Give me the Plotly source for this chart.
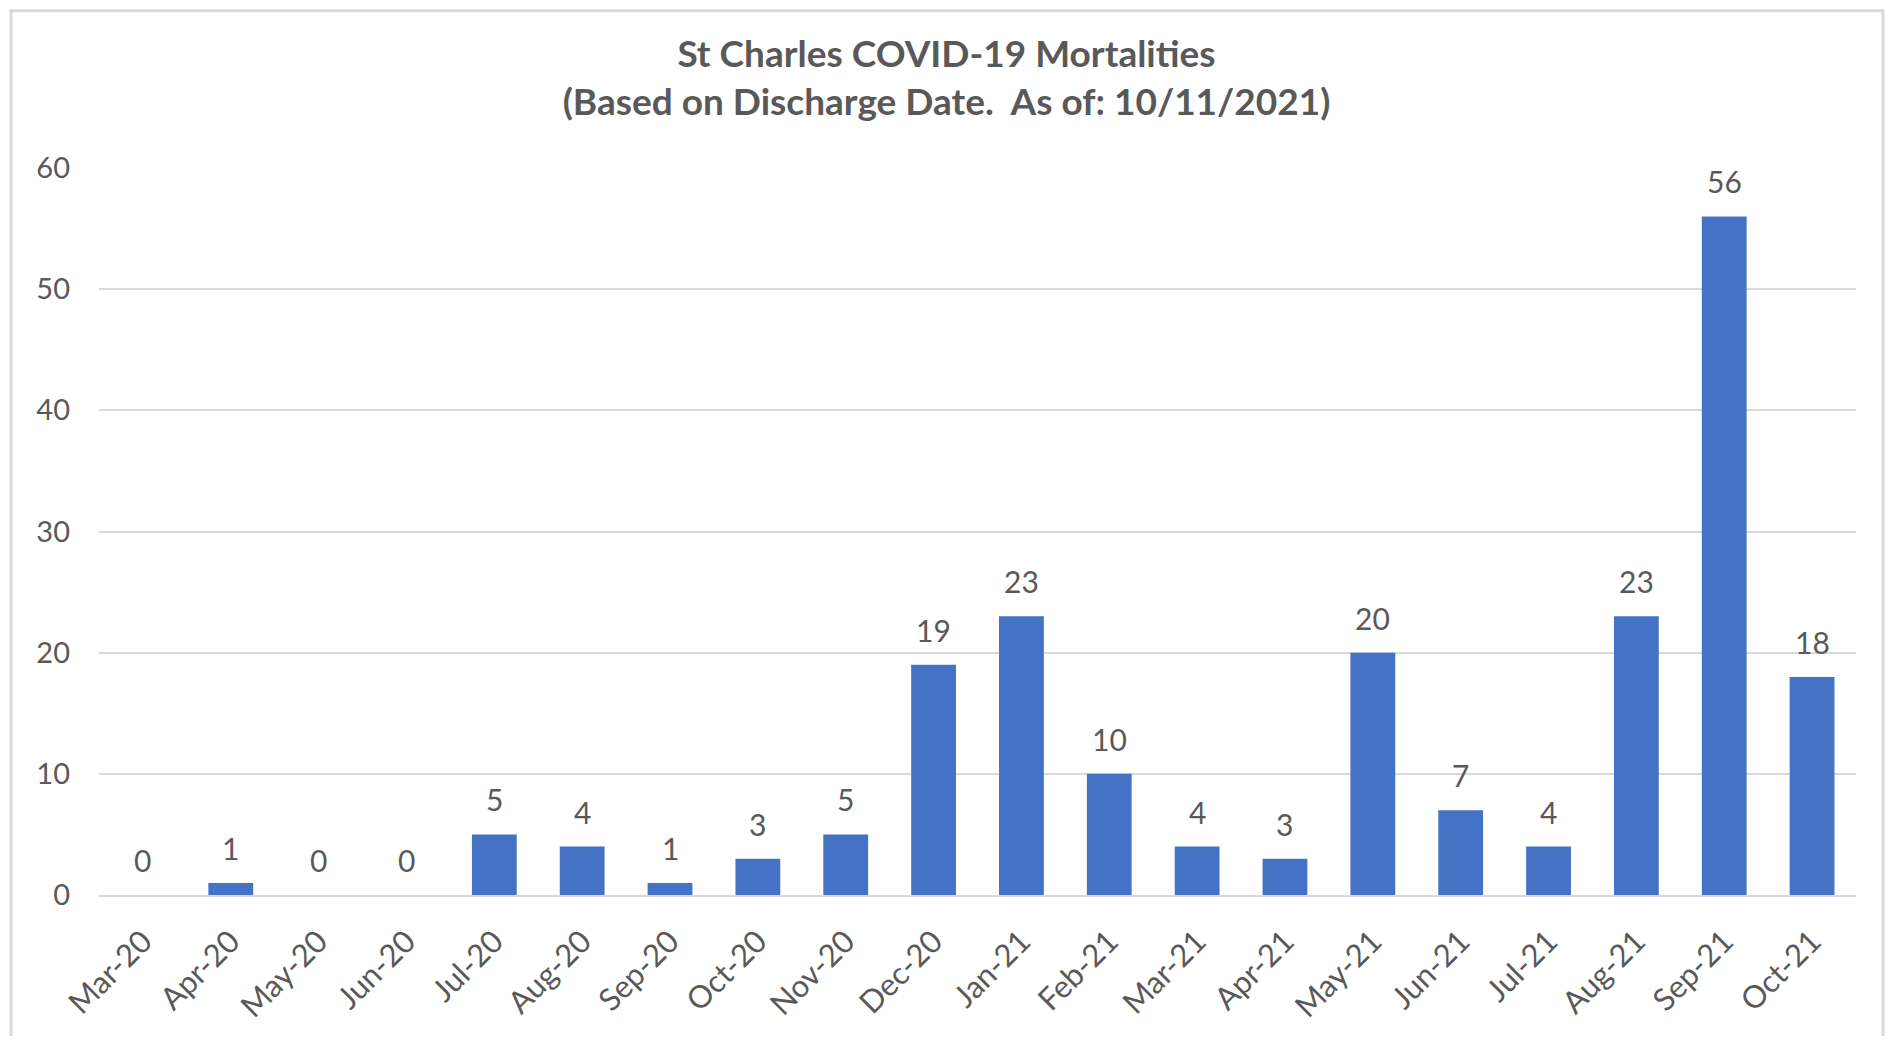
import plotly.graph_objects as go

months = ["Mar-20", "Apr-20", "May-20", "Jun-20", "Jul-20", "Aug-20", "Sep-20", "Oct-20",
          "Nov-20", "Dec-20", "Jan-21", "Feb-21", "Mar-21", "Apr-21", "May-21", "Jun-21",
          "Jul-21", "Aug-21", "Sep-21", "Oct-21"]
deaths = [0, 1, 0, 0, 5, 4, 1, 3, 5, 19, 23, 10, 4, 3, 20, 7, 4, 23, 56, 18]
y_ticks = [0, 10, 20, 30, 40, 50, 60]

title_text = "St Charles COVID-19 Mortalities<br>(Based on Discharge Date.  As of: 10/11/2021)"

# page has an 8px body margin; the figure sits at (8, 8)
W, H = 1877, 1028
L, R, T, B = 91, 29, 160, 133
TEXT = "#595959"
FONT = "Lato"

fig = go.Figure()
fig.add_trace(go.Bar(
    x=months, y=deaths,
    marker=dict(color="#4472C4", line=dict(width=0)),
    hoverinfo="x+y",
))

for m, v in zip(months, deaths):
    fig.add_annotation(x=m, y=v, text=str(v), showarrow=False,
                       yanchor="middle", yshift=35,
                       font=dict(family=FONT, size=30, color=TEXT))

pw = W - L - R
ph = H - T - B
fig.add_shape(type="rect", xref="paper", yref="paper",
              x0=(3 - L) / pw, x1=(W - 2 - L) / pw,
              y0=(H - B - 1060) / ph, y1=(H - B - 1) / ph,
              line=dict(color="#d9d9d9", width=3), layer="below")

fig.update_layout(
    width=W, height=H,
    margin=dict(l=L, r=R, t=T, b=B, pad=0),
    paper_bgcolor="white", plot_bgcolor="white",
    bargap=0.49,
    showlegend=False,
    title=dict(text=title_text, x=0.5, xanchor="center", y=1 - 59 / H, yanchor="middle",
               font=dict(family=FONT, size=37, color=TEXT, weight="bold")),
    font=dict(family=FONT, color=TEXT),
)
fig.update_xaxes(
    type="category", tickangle=-45, showgrid=False,
    showline=True, linecolor="#d9d9d9", linewidth=2,
    ticks="", ticklabelstandoff=14,
    tickfont=dict(family=FONT, size=31, color=TEXT),
)
fig.update_yaxes(
    range=[0, 60], tickvals=y_ticks, showgrid=True, gridcolor="#d9d9d9", gridwidth=2,
    zeroline=False, showline=False, ticks="", ticklabelstandoff=28,
    tickfont=dict(family=FONT, size=29, color=TEXT),
)

fig.write_html("out.html")
